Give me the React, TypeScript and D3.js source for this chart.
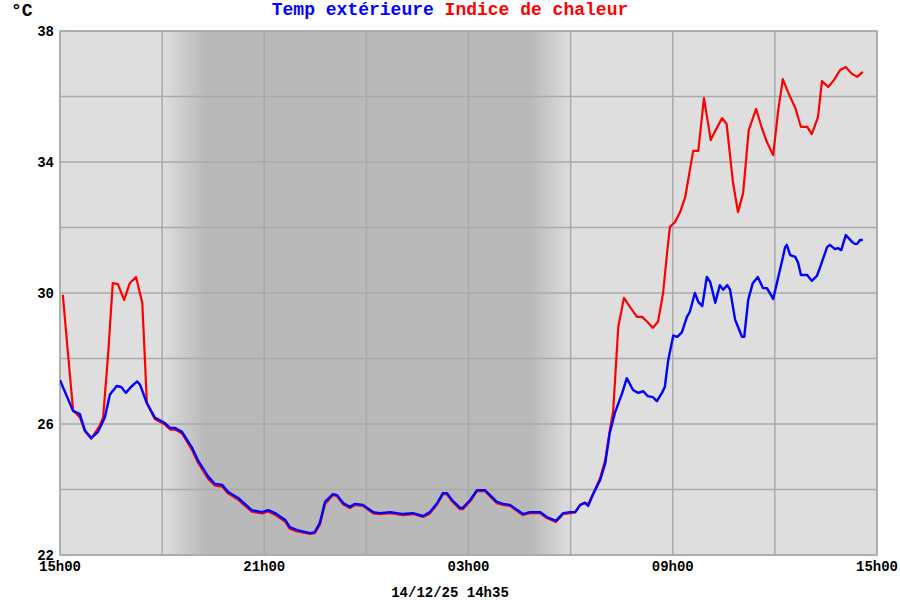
import React from "react";
import * as d3 from "d3";

// ---- Data ----
const startTime = new Date(2025, 11, 13, 15, 0);
const endTime = new Date(2025, 11, 14, 15, 0);
const stampLabel = "14/12/25 14h35";
const unitLabel = "°C";
const seriesNames = ["Temp extérieure", "Indice de chaleur"];
const seriesColors = ["#0000ff", "#ff0000"];

// minutes after 15h00
const tempMinutes = [
  0, 23, 35, 44, 55, 67, 79, 88, 100, 108, 116, 125, 136, 141, 153, 167, 185, 194, 203, 215,
  233, 243, 261, 273, 286, 296, 314, 338, 356, 367, 379, 397, 405, 418, 441, 449, 458, 467, 481, 488,
  499, 511, 520, 534, 552, 564, 582, 605, 622, 640, 652, 665, 675, 682, 691, 705, 710, 723, 735, 749,
  770, 781, 793, 816, 828, 846, 858, 874, 887, 899, 908, 917, 925, 931, 939, 952, 961, 969, 978, 991,
  999, 1010, 1019, 1028, 1036, 1045, 1052, 1061, 1066, 1072, 1081, 1088, 1096, 1105, 1110, 1119, 1125, 1132, 1140, 1146,
  1155, 1163, 1169, 1176, 1181, 1190, 1195, 1202, 1206, 1213, 1221, 1230, 1239, 1246, 1257, 1266, 1273, 1278, 1281, 1287,
  1296, 1301, 1306, 1317, 1325, 1334, 1340, 1352, 1357, 1366, 1371, 1377, 1385, 1396, 1401, 1405, 1410, 1415,
];
const tempValues = [
  27.34, 26.4, 26.3, 25.8, 25.57, 25.76, 26.2, 26.9, 27.16, 27.13, 26.95, 27.13, 27.3, 27.2, 26.64, 26.2, 26.03, 25.88, 25.88, 25.76,
  25.27, 24.9, 24.4, 24.17, 24.14, 23.93, 23.74, 23.37, 23.31, 23.37, 23.28, 23.07, 22.85, 22.76, 22.67, 22.7, 22.98, 23.62, 23.86, 23.83,
  23.59, 23.47, 23.56, 23.53, 23.31, 23.28, 23.31, 23.25, 23.28, 23.19, 23.31, 23.59, 23.89, 23.89, 23.68, 23.44, 23.44, 23.68, 23.98, 23.98,
  23.62, 23.56, 23.53, 23.25, 23.31, 23.31, 23.16, 23.04, 23.28, 23.31, 23.31, 23.53, 23.59, 23.5, 23.83, 24.29, 24.8, 25.73, 26.34, 26.95,
  27.4, 27.04, 26.95, 27.0, 26.85, 26.82, 26.7, 26.95, 27.13, 27.95, 28.7, 28.66, 28.8, 29.27, 29.42, 30.0, 29.73, 29.6, 30.49, 30.34,
  29.7, 30.24, 30.1, 30.24, 30.1, 29.18, 28.97, 28.66, 28.66, 29.79, 30.3, 30.49, 30.15, 30.15, 29.82, 30.49, 31.0, 31.4, 31.47, 31.16,
  31.1, 30.92, 30.55, 30.55, 30.37, 30.52, 30.8, 31.4, 31.47, 31.34, 31.37, 31.31, 31.77, 31.56, 31.5, 31.5, 31.62, 31.62,
];

const heatMinutes = [
  5, 14, 23, 35, 44, 55, 70, 76, 85, 93, 102, 113, 123, 134, 145, 150, 153, 167, 185, 194,
  203, 215, 233, 243, 261, 273, 286, 296, 314, 338, 356, 367, 379, 397, 405, 418, 441, 449, 458, 467,
  481, 488, 499, 511, 520, 534, 552, 564, 582, 605, 622, 640, 652, 665, 675, 682, 691, 705, 710, 723,
  735, 749, 770, 781, 793, 816, 828, 846, 858, 874, 887, 899, 908, 917, 925, 931, 939, 952, 961, 969,
  975, 984, 994, 1006, 1017, 1026, 1035, 1045, 1054, 1063, 1070, 1075, 1084, 1093, 1102, 1116, 1125, 1135, 1147, 1154,
  1167, 1175, 1186, 1195, 1204, 1214, 1227, 1237, 1246, 1257, 1266, 1274, 1283, 1296, 1306, 1317, 1325, 1336, 1343, 1354,
  1364, 1375, 1385, 1396, 1405, 1415,
];
const heatValues = [
  29.94, 28.17, 26.43, 26.2, 25.78, 25.55, 25.95, 26.2, 28.17, 30.3, 30.27, 29.79, 30.3, 30.49, 29.7, 27.86, 26.64, 26.15, 25.98, 25.83,
  25.83, 25.71, 25.2, 24.83, 24.33, 24.12, 24.09, 23.88, 23.69, 23.32, 23.27, 23.33, 23.23, 23.02, 22.8, 22.72, 22.64, 22.67, 22.92, 23.55,
  23.83, 23.8, 23.55, 23.43, 23.53, 23.5, 23.27, 23.25, 23.28, 23.22, 23.25, 23.16, 23.27, 23.55, 23.86, 23.86, 23.64, 23.4, 23.4, 23.64,
  23.95, 23.95, 23.58, 23.53, 23.5, 23.22, 23.28, 23.28, 23.13, 23.01, 23.25, 23.28, 23.3, 23.53, 23.6, 23.55, 23.85, 24.35, 24.9, 25.8,
  26.4, 28.97, 29.85, 29.54, 29.27, 29.27, 29.12, 28.94, 29.12, 30.0, 31.22, 32.02, 32.17, 32.47, 32.93, 34.34, 34.34, 35.95, 34.67, 34.92,
  35.34, 35.16, 33.39, 32.47, 33.05, 34.98, 35.62, 35.04, 34.61, 34.21, 35.59, 36.53, 36.14, 35.65, 35.07, 35.07, 34.85, 35.37, 36.47, 36.29,
  36.5, 36.81, 36.9, 36.69, 36.6, 36.75,
];

// night shading, minutes after 15h00: twilight start, full night, night end, daylight
const nightMinutes = [180, 256, 830, 900];

const yDomain = [22, 38];
const yGridTicks = [22, 24, 26, 28, 30, 32, 34, 36, 38];
const yLabelTicks = [22, 26, 30, 34, 38];
const xGridHours = [0, 3, 6, 9, 12, 15, 18, 21, 24]; // hours after 15h00
const xLabelHours = [0, 6, 12, 18, 24];

// ---- Layout ----
const W = 900;
const H = 600;
const M = { left: 60, right: 23, top: 31, bottom: 45 };
const FONT = "'Liberation Mono', 'Courier New', monospace";

const toDate = (m: number) => new Date(startTime.getTime() + m * 60000);
const fmt = (d: Date) => d3.timeFormat("%Hh%M")(d);

export default function App() {
  const x = d3.scaleTime().domain([startTime, endTime]).range([M.left, W - M.right]);
  const y = d3.scaleLinear().domain(yDomain).range([H - M.bottom, M.top]);
  const x0 = M.left;
  const x1 = W - M.right;
  const pw = x1 - x0;

  const tempData = tempMinutes.map((m, i) => ({ t: toDate(m), v: tempValues[i] }));
  const heatData = heatMinutes.map((m, i) => ({ t: toDate(m), v: heatValues[i] }));
  const line = d3
    .line<{ t: Date; v: number }>()
    .x((d) => x(d.t))
    .y((d) => y(d.v));

  const gridTimes = xGridHours.map((h) => toDate(h * 60));
  const labelTimes = xLabelHours.map((h) => toDate(h * 60));

  const nightOff = nightMinutes.map((m) => (x(toDate(m)) - x0) / pw);
  const light = "#dedede";
  const dark = "#b9b9b9";

  return (
    <svg
      width={W}
      height={H}
      style={{ position: "absolute", left: 0, top: 0, background: "#ffffff" }}
      fontFamily={FONT}
    >
      <defs>
        <linearGradient id="night" x1="0" x2="1" y1="0" y2="0">
          <stop offset={0} stopColor={light} />
          <stop offset={nightOff[0]} stopColor={light} />
          <stop offset={nightOff[1]} stopColor={dark} />
          <stop offset={nightOff[2]} stopColor={dark} />
          <stop offset={nightOff[3]} stopColor={light} />
          <stop offset={1} stopColor={light} />
        </linearGradient>
        <clipPath id="plot">
          <rect x={x0} y={M.top} width={pw} height={H - M.bottom - M.top} />
        </clipPath>
      </defs>
      <rect x={x0} y={M.top} width={pw} height={H - M.bottom - M.top} fill="url(#night)" />
      {yGridTicks.map((v) => (
        <line key={"gy" + v} x1={x0} x2={x1} y1={y(v)} y2={y(v)} stroke="#aaaaaa" strokeWidth={1.5} />
      ))}
      {gridTimes.map((t) => (
        <line key={"gx" + t.getTime()} x1={x(t)} x2={x(t)} y1={M.top} y2={H - M.bottom} stroke="#aaaaaa" strokeWidth={1.5} />
      ))}
      <rect x={x0} y={M.top} width={pw} height={H - M.bottom - M.top} fill="none" stroke="#aaaaaa" strokeWidth={1.5} />
      <g clipPath="url(#plot)">
        <path d={line(heatData) || ""} fill="none" stroke={seriesColors[1]} strokeWidth={2.2} strokeLinejoin="round" />
        <path d={line(tempData) || ""} fill="none" stroke={seriesColors[0]} strokeWidth={2.4} strokeLinejoin="round" />
      </g>
      {yLabelTicks.map((v) => (
        <text key={"ly" + v} x={54} y={y(v)} dy="0.35em" textAnchor="end" fontSize={14} fontWeight="bold" fill="#000">
          {v}
        </text>
      ))}
      {labelTimes.map((t, i) => (
        <text key={"lx" + i} x={x(t)} y={571} textAnchor="middle" fontSize={14} fontWeight="bold" fill="#000">
          {fmt(t)}
        </text>
      ))}
      <text x={W / 2} y={597} textAnchor="middle" fontSize={14} fontWeight="bold" fill="#000">
        {stampLabel}
      </text>
      <text x={11} y={16} fontSize={18} fontWeight="bold" fill="#000">
        {unitLabel}
      </text>
      <text x={W / 2} y={15} textAnchor="middle" fontSize={18} fontWeight="bold">
        <tspan fill={seriesColors[0]}>{seriesNames[0]}</tspan>
        <tspan fill={seriesColors[1]}>{" " + seriesNames[1]}</tspan>
      </text>
    </svg>
  );
}
